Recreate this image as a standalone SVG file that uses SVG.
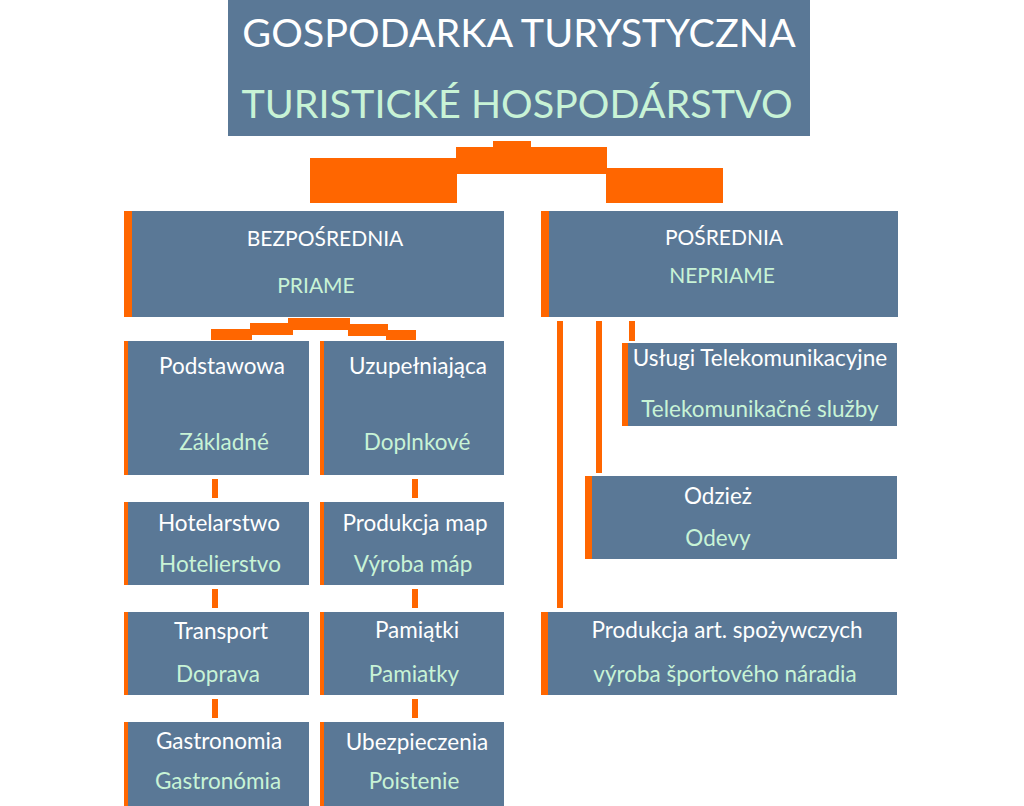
<svg xmlns="http://www.w3.org/2000/svg" width="1024" height="806" viewBox="0 0 1024 806">
<style>
.box{fill:#5a7896}
.bar{fill:#ff6600}
.c{fill:#ff6600}
text{font-family:Lato,"Liberation Sans",sans-serif;text-anchor:middle}
.w{fill:#ffffff;font-size:22.5px}
.g{fill:#c8f3d6;font-size:22.5px}
.h{font-size:21px}
.tw{fill:#ffffff;font-size:39.5px}
.tg{fill:#c8f3d6;font-size:39.5px}
</style>
<rect width="1024" height="806" fill="#ffffff"/>
<g id="connectors">
<rect class="c" x="493" y="141" width="38" height="7"/>
<rect class="c" x="456" y="147" width="151" height="27"/>
<rect class="c" x="310" y="158" width="147" height="45"/>
<rect class="c" x="606" y="168" width="117" height="35"/>
<rect class="c" x="288" y="318" width="62" height="12"/>
<rect class="c" x="250" y="323" width="43" height="12"/>
<rect class="c" x="211" y="329" width="41" height="11"/>
<rect class="c" x="315" y="324" width="73" height="6"/>
<rect class="c" x="348" y="324" width="40" height="12"/>
<rect class="c" x="386" y="330" width="30" height="10"/>
<rect class="c" x="212" y="479" width="6" height="19"/>
<rect class="c" x="412" y="479" width="6" height="19"/>
<rect class="c" x="212" y="589" width="6" height="19"/>
<rect class="c" x="412" y="589" width="6" height="19"/>
<rect class="c" x="212" y="699" width="6" height="19"/>
<rect class="c" x="412" y="699" width="6" height="19"/>
<rect class="c" x="557" y="321" width="6" height="287"/>
<rect class="c" x="596" y="321" width="6" height="152"/>
<rect class="c" x="629" y="321" width="6" height="20"/>
</g>
<g id="title">
<rect class="box" x="228" y="0" width="582" height="136"/>
<text class="tw" x="519" y="47">GOSPODARKA TURYSTYCZNA</text>
<text class="tg" x="517" y="118">TURISTICKÉ HOSPODÁRSTVO</text>
</g>
<g id="bezposrednia">
<rect class="box" x="124" y="211" width="380" height="106"/>
<rect class="bar" x="124" y="211" width="8" height="106"/>
<text class="w h" x="325" y="246">BEZPOŚREDNIA</text>
<text class="g h" x="316" y="293">PRIAME</text>
</g>
<g id="posrednia">
<rect class="box" x="541" y="211" width="357" height="106"/>
<rect class="bar" x="541" y="211" width="8" height="106"/>
<text class="w h" x="724" y="245">POŚREDNIA</text>
<text class="g h" x="722" y="283">NEPRIAME</text>
</g>
<g id="podstawowa">
<rect class="box" x="124" y="341" width="185" height="134"/>
<rect class="bar" x="124" y="341" width="4" height="134"/>
<text class="w" x="222" y="374">Podstawowa</text>
<text class="g" x="224" y="450">Základné</text>
</g>
<g id="uzupelniajaca">
<rect class="box" x="320" y="341" width="184" height="134"/>
<rect class="bar" x="320" y="341" width="4" height="134"/>
<text class="w" x="418" y="374">Uzupełniająca</text>
<text class="g" x="417" y="450">Doplnkové</text>
</g>
<g id="hotelarstwo">
<rect class="box" x="124" y="502" width="185" height="83"/>
<rect class="bar" x="124" y="502" width="4" height="83"/>
<text class="w" x="219" y="531">Hotelarstwo</text>
<text class="g" x="220" y="572">Hotelierstvo</text>
</g>
<g id="produkcja-map">
<rect class="box" x="320" y="502" width="184" height="83"/>
<rect class="bar" x="320" y="502" width="4" height="83"/>
<text class="w" x="415" y="531">Produkcja map</text>
<text class="g" x="413" y="572">Výroba máp</text>
</g>
<g id="transport">
<rect class="box" x="124" y="612" width="185" height="83"/>
<rect class="bar" x="124" y="612" width="4" height="83"/>
<text class="w" x="221" y="639">Transport</text>
<text class="g" x="218" y="682">Doprava</text>
</g>
<g id="pamiatki">
<rect class="box" x="320" y="612" width="184" height="83"/>
<rect class="bar" x="320" y="612" width="4" height="83"/>
<text class="w" x="417" y="638">Pamiątki</text>
<text class="g" x="414" y="682">Pamiatky</text>
</g>
<g id="gastronomia">
<rect class="box" x="124" y="722" width="185" height="84"/>
<rect class="bar" x="124" y="722" width="4" height="84"/>
<text class="w" x="219" y="749">Gastronomia</text>
<text class="g" x="218" y="789">Gastronómia</text>
</g>
<g id="ubezpieczenia">
<rect class="box" x="320" y="722" width="184" height="84"/>
<rect class="bar" x="320" y="722" width="4" height="84"/>
<text class="w" x="417" y="750">Ubezpieczenia</text>
<text class="g" x="414" y="789">Poistenie</text>
</g>
<g id="uslugi">
<rect class="box" x="622" y="343" width="275" height="83"/>
<rect class="bar" x="622" y="343" width="6" height="83"/>
<text class="w" x="760" y="366">Usługi Telekomunikacyjne</text>
<text class="g" x="760" y="417">Telekomunikačné služby</text>
</g>
<g id="odziez">
<rect class="box" x="585" y="476" width="312" height="83"/>
<rect class="bar" x="585" y="476" width="7" height="83"/>
<text class="w" x="718" y="504">Odzież</text>
<text class="g" x="718" y="546">Odevy</text>
</g>
<g id="produkcja-art">
<rect class="box" x="541" y="612" width="356" height="83"/>
<rect class="bar" x="541" y="612" width="7" height="83"/>
<text class="w" x="727" y="638">Produkcja art. spożywczych</text>
<text class="g" x="725" y="682">výroba športového náradia</text>
</g>
</svg>
